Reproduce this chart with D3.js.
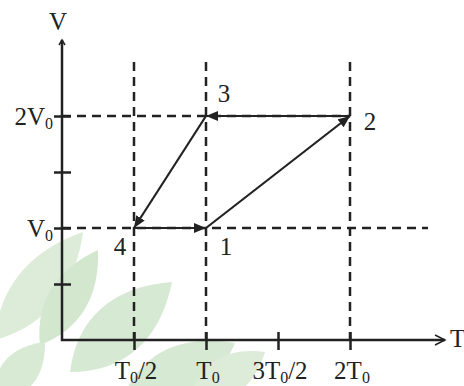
<!DOCTYPE html>
<html>
<head>
<meta charset="utf-8">
<script src="https://cdn.jsdelivr.net/npm/d3@7"></script>
<style>
  html, body { margin: 0; padding: 0; background: #fff; }
  text { font-family: "Liberation Serif", "Times New Roman", serif; fill: #222; }
</style>
</head>
<body>
<svg id="chart" width="464" height="386"></svg>
<script>
// states of the cycle (T in units of T0, V in units of V0)
const states = ["1", "2", "3", "4"];
const stateT = [1, 2, 1, 0.5];
const stateV = [1, 2, 2, 1];

// ticks
const tTicks = [0.5, 1, 1.5, 2];
const tLabels = [["T", "0", "/2"], ["T", "0", ""], ["3T", "0", "/2"], ["2T", "0", ""]];
const vTicks = [0.5, 1, 1.5, 2];
const vLabelTicks = [1, 2];
const vLabels = [["V", "0"], ["2V", "0"]];

// dashed guide lines
const guideT = [0.5, 1, 2];
const guideV = [1, 2];

const svg = d3.select("#chart");
const ink = "#222";

const x = d3.scaleLinear().domain([0, 2]).range([62, 350]);
const y = d3.scaleLinear().domain([0, 2]).range([340, 116]);

// watermark leaves (base point, tip point, half width)
function leafPath(b, t, w) {
  const dx = t[0] - b[0], dy = t[1] - b[1];
  const len = Math.hypot(dx, dy);
  const nx = -dy / len * w, ny = dx / len * w;
  const m1 = [b[0] + dx * 0.3, b[1] + dy * 0.3], m2 = [b[0] + dx * 0.65, b[1] + dy * 0.65];
  return `M${b}C${m1[0] + nx},${m1[1] + ny} ${m2[0] + nx},${m2[1] + ny} ${t}` +
    `C${m2[0] - nx},${m2[1] - ny} ${m1[0] - nx},${m1[1] - ny} ${b}Z`;
}
const wm = svg.append("g");
[[[-5, 340], [83, 232], 30, "#dcecd8"],
 [[40, 345], [98, 250], 26, "#d3e7cf"],
 [[70, 372], [172, 282], 36, "#d6e9d2"],
 [[-5, 400], [45, 342], 24, "#d8ead4"],
 [[120, 405], [235, 343], 36, "#d6e9d2"],
 [[190, 400], [265, 352], 26, "#dcecd8"]]
  .forEach(([b, t, w, c]) => {
    wm.append("path").attr("d", leafPath(b, t, w)).attr("fill", c);
  });

// markers
const defs = svg.append("defs");
defs.append("marker")
  .attr("id", "head")
  .attr("markerUnits", "userSpaceOnUse")
  .attr("viewBox", "0 -5 12 10")
  .attr("refX", 12).attr("refY", 0)
  .attr("markerWidth", 12).attr("markerHeight", 10)
  .attr("orient", "auto")
  .append("path")
  .attr("d", "M0,-5L12,0L0,5Z")
  .attr("fill", ink);

// dashed guides
const tTop = y.invert(62), tRight = x.invert(428);
svg.append("g")
  .selectAll("line")
  .data(guideT)
  .join("line")
  .attr("x1", d => x(d)).attr("x2", d => x(d))
  .attr("y1", y(tTop)).attr("y2", y(0))
  .attr("stroke", ink).attr("stroke-width", 2.5)
  .attr("stroke-dasharray", "9,6");

svg.append("g")
  .selectAll("line")
  .data(guideV)
  .join("line")
  .attr("x1", x(0))
  .attr("x2", d => d === 2 ? x(2) : x(tRight))
  .attr("y1", d => y(d)).attr("y2", d => y(d))
  .attr("stroke", ink).attr("stroke-width", 2.5)
  .attr("stroke-dasharray", "9,6");

// axes
const xAxis = svg.append("g")
  .attr("transform", `translate(0,${y(0)})`)
  .call(d3.axisBottom(x).tickValues(tTicks).tickSizeOuter(0).tickSize(10).tickFormat(""));
xAxis.select(".domain").remove();
xAxis.selectAll(".tick line").attr("y1", -8).attr("stroke", ink).attr("stroke-width", 2.5);

const yAxis = svg.append("g")
  .attr("transform", `translate(${x(0)},0)`)
  .call(d3.axisLeft(y).tickValues(vTicks).tickSizeOuter(0).tickSize(8).tickFormat(""));
yAxis.select(".domain").remove();
yAxis.selectAll(".tick line").attr("x1", 9).attr("stroke", ink).attr("stroke-width", 2.5);

const xEnd = x.invert(445), yEnd = y.invert(40);
svg.append("path")
  .attr("d", `M${x(0)},${y(yEnd)}V${y(0)}H${x(xEnd)}`)
  .attr("fill", "none").attr("stroke", ink).attr("stroke-width", 2.5);
svg.append("path")
  .attr("d", `M${x(xEnd) - 10},${y(0) - 5}L${x(xEnd)},${y(0)}L${x(xEnd) - 10},${y(0) + 5}`)
  .attr("fill", "none").attr("stroke", ink).attr("stroke-width", 1.5);
svg.append("path")
  .attr("d", `M${x(0) - 3},${y(yEnd) + 5}L${x(0)},${y(yEnd)}L${x(0) + 3},${y(yEnd) + 5}`)
  .attr("fill", "none").attr("stroke", ink).attr("stroke-width", 1.5);

// process arrows
const segs = d3.range(states.length).map(i => [i, (i + 1) % states.length]);
svg.append("g")
  .selectAll("line")
  .data(segs)
  .join("line")
  .attr("x1", d => x(stateT[d[0]])).attr("y1", d => y(stateV[d[0]]))
  .attr("x2", d => x(stateT[d[1]])).attr("y2", d => y(stateV[d[1]]))
  .attr("stroke", ink).attr("stroke-width", 2.2)
  .attr("marker-end", "url(#head)");

// state labels
const off = { "1": [20, 27], "2": [20, 14], "3": [18, -14], "4": [-14, 27] };
svg.append("g")
  .selectAll("text")
  .data(states)
  .join("text")
  .attr("x", (d, i) => x(stateT[i]) + off[d][0])
  .attr("y", (d, i) => y(stateV[i]) + off[d][1])
  .attr("text-anchor", "middle")
  .attr("font-size", 25)
  .text(d => d);

// axis titles
svg.append("text").attr("x", 58).attr("y", 30).attr("text-anchor", "middle")
  .attr("font-size", 25).text("V");
svg.append("text").attr("x", 450).attr("y", 347)
  .attr("font-size", 25).text("T");

// tick labels with subscripts
function sub(sel) {
  sel.each(function (d) {
    const t = d3.select(this);
    t.append("tspan").text(d[0]);
    t.append("tspan").attr("font-size", 16).attr("dy", 4).text(d[1]);
    if (d[2]) t.append("tspan").attr("dy", -4).text(d[2]);
  });
}

svg.append("g")
  .selectAll("text")
  .data(tLabels)
  .join("text")
  .attr("x", (d, i) => x(tTicks[i]) + 2)
  .attr("y", 379)
  .attr("text-anchor", "middle")
  .attr("font-size", 25)
  .call(sub);

svg.append("g")
  .selectAll("text")
  .data(vLabels)
  .join("text")
  .attr("x", x(0) - 9)
  .attr("y", (d, i) => y(vLabelTicks[i]) + 9)
  .attr("text-anchor", "end")
  .attr("font-size", 25)
  .call(sub);
</script>
</body>
</html>
